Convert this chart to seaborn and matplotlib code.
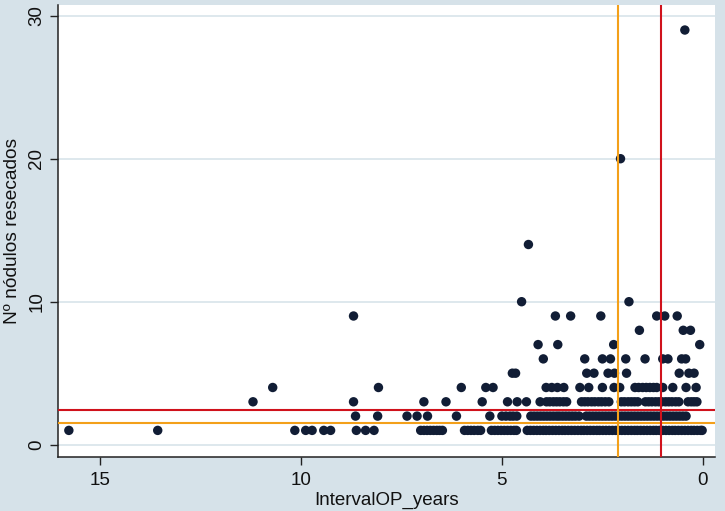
import matplotlib
matplotlib.use("Agg")
import matplotlib.pyplot as plt
import seaborn as sns
import pandas as pd

# ---- data: x values (IntervalOP_years) for each integer count level ----
y1_x = [15.77, 13.56, 10.15, 9.88, 9.72, 9.43, 9.26, 8.62, 8.39, 8.18,
        7.02, 6.94, 6.86, 6.78, 6.70, 6.62, 6.55, 6.48,
        5.93, 5.85, 5.77, 5.69, 5.60, 5.53,
        5.26, 5.18, 5.10, 5.02, 4.94, 4.86, 4.78, 4.70, 4.64,
        4.37, 4.29, 4.21, 4.13, 4.05, 3.97, 3.90, 3.82, 3.74, 3.66, 3.58,
        3.50, 3.43, 3.35, 3.27, 3.19, 3.11, 3.03, 2.96, 2.88, 2.80, 2.72,
        2.64, 2.57, 2.49, 2.41, 2.33, 2.25, 2.17, 2.10, 2.02, 1.94, 1.86,
        1.78, 1.70, 1.63, 1.55, 1.47, 1.39, 1.31, 1.23, 1.16, 1.08, 1.00,
        0.92, 0.84, 0.76, 0.69, 0.61, 0.53, 0.45, 0.37, 0.29, 0.22, 0.14,
        0.06, 0.02]
y2_x = [8.64, 8.09, 7.36, 7.11, 6.85, 6.13, 5.30,
        5.00, 4.90, 4.80, 4.72, 4.63,
        4.28, 4.20, 4.12, 4.04, 3.96, 3.88, 3.80, 3.72, 3.64, 3.57, 3.49,
        3.41, 3.33, 3.25, 3.17, 3.08,
        2.90, 2.82, 2.74, 2.66, 2.58, 2.50, 2.42, 2.34, 2.26, 2.18, 2.10,
        2.02, 1.94, 1.86, 1.78, 1.70, 1.62, 1.54, 1.46, 1.38, 1.30, 1.22,
        1.14, 1.06, 0.98, 0.90, 0.82, 0.74, 0.66, 0.58, 0.50, 0.42]
y3_x = [11.19, 8.69, 6.94, 6.39, 5.49, 4.86, 4.62, 4.39, 4.05,
        3.89, 3.81, 3.72, 3.64, 3.56, 3.47, 3.39,
        3.02, 2.94, 2.86, 2.77, 2.69, 2.60, 2.52, 2.43, 2.34,
        2.03, 1.95, 1.86, 1.78, 1.70, 1.62,
        1.43, 1.35, 1.27, 1.18, 1.10, 1.02, 0.93, 0.85, 0.77, 0.68, 0.60,
        0.37, 0.29, 0.22, 0.15]
y4_x = [10.70, 8.07, 6.01, 5.40, 5.22, 3.90, 3.76, 3.62, 3.46, 3.06, 2.84,
        2.50, 2.21, 2.07, 1.69, 1.60, 1.50, 1.41, 1.32, 1.23, 1.15,
        1.00, 0.75, 0.42, 0.17]
y5_x = [4.74, 4.66, 2.89, 2.71, 2.36, 2.20, 1.90, 0.59, 0.35, 0.22]
y6_x = [3.97, 2.94, 2.50, 2.30, 1.92, 1.44, 1.00, 0.87, 0.53, 0.43]
y7_x = [4.10, 3.61, 2.22, 0.08]
y8_x = [1.58, 0.49, 0.31]
y9_x = [8.69, 3.67, 3.29, 2.54, 1.15, 0.95, 0.64]
y10_x = [4.51, 1.84]
y14_x = [4.34]
y20_x = [2.05]
y29_x = [0.45]

levels = {1: y1_x, 2: y2_x, 3: y3_x, 4: y4_x, 5: y5_x, 6: y6_x, 7: y7_x,
          8: y8_x, 9: y9_x, 10: y10_x, 14: y14_x, 20: y20_x, 29: y29_x}

# reference lines
hline_red = 2.45
hline_orange = 1.50
vline_orange = 2.11
vline_red = 1.05

x_ticks = [0, 5, 10, 15]
y_ticks = [0, 10, 20, 30]

rows = []
for yv, xs in levels.items():
    for xv in xs:
        rows.append((xv, yv))
df = pd.DataFrame(rows, columns=["IntervalOP_years", "nodulos"])

sns.set_theme(style="ticks")
plt.rcParams['font.family'] = ['Liberation Sans', 'DejaVu Sans']

bg = '#d6e2e9'
fig = plt.figure(figsize=(7.25, 5.11), dpi=100, facecolor=bg)
ax = fig.add_axes([58/725, 1-456.7/511, (715-58)/725, (456.7-5)/511])
ax.set_facecolor('white')

for yt in y_ticks:
    ax.axhline(yt, color='#d8e4ea', lw=1.2, zorder=0)

sns.scatterplot(data=df, x="IntervalOP_years", y="nodulos", ax=ax,
                color='#111d35', s=46, edgecolor='none', linewidth=0, zorder=2)

ax.axhline(hline_red, color='#d0121c', lw=1.5, zorder=3)
ax.axhline(hline_orange, color='#f3a01a', lw=1.5, zorder=3)
ax.axvline(vline_orange, color='#f3a01a', lw=1.5, zorder=3)
ax.axvline(vline_red, color='#d0121c', lw=1.5, zorder=3)

ax.set_xlim(16.04, -0.30)
ax.set_ylim(-0.84, 30.75)
ax.set_xticks(x_ticks)
ax.set_yticks(y_ticks)
ax.set_xticklabels([str(t) for t in x_ticks])
ax.set_yticklabels([str(t) for t in y_ticks], rotation=90, va='center')

for sp in ['top', 'right']:
    ax.spines[sp].set_visible(False)
for sp in ['left', 'bottom']:
    ax.spines[sp].set_color('#222222')
    ax.spines[sp].set_linewidth(1.1)

ax.tick_params(axis='both', length=6, width=1.0, color='#222222',
               labelsize=13.5, labelcolor='#111111', direction='out')
ax.tick_params(axis='x', pad=5)
ax.tick_params(axis='y', pad=3)

ax.set_xlabel("IntervalOP_years", fontsize=13.5, color='#111111', labelpad=2)
ax.set_ylabel("Nº nódulos resecados", fontsize=13.8, color='#111111')
ax.yaxis.set_label_coords(-0.057, 0.5)
ax.grid(False)

fig.savefig("out.png", dpi=100, facecolor=bg)
